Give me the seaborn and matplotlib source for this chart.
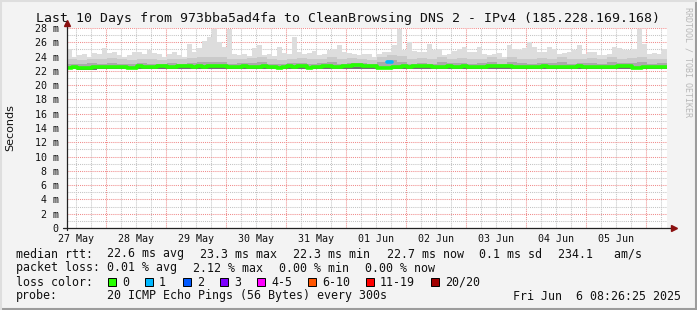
import numpy as np
import pandas as pd
import matplotlib
matplotlib.use("Agg")
import matplotlib.pyplot as plt
import matplotlib.dates as mdates
from matplotlib.ticker import MultipleLocator, FuncFormatter
from matplotlib.lines import Line2D
from matplotlib.patches import Rectangle
import seaborn as sns

# time window of the graph
start = pd.Timestamp("2025-05-27 08:26:25")
end = pd.Timestamp("2025-06-06 08:26:25")

# median rtt in ms, 2 hour steps (120 steps)
median_rtt = [22.45, 22.48, 22.40, 22.36, 22.38, 22.52, 22.54, 22.50, 22.48, 22.52,
              22.55, 22.54, 22.46, 22.44, 22.62, 22.60, 22.55, 22.52, 22.66, 22.64,
              22.57, 22.55, 22.66, 22.68, 22.62, 22.60, 22.63, 22.60, 22.68, 22.66,
              22.70, 22.68, 22.58, 22.56, 22.60, 22.62, 22.52, 22.50, 22.48, 22.62,
              22.60, 22.58, 22.46, 22.48, 22.62, 22.60, 22.64, 22.72, 22.42, 22.56,
              22.54, 22.74, 22.70, 22.52, 22.50, 22.68, 22.66, 22.78, 22.76, 22.74,
              22.72, 22.70, 22.46, 22.44, 23.30, 22.52, 22.55, 22.62, 22.60, 22.66,
              22.68, 22.64, 22.66, 22.50, 22.48, 22.52, 22.62, 22.60, 22.58, 22.62,
              22.57, 22.60, 22.55, 22.58, 22.68, 22.66, 22.70, 22.64, 22.68, 22.50,
              22.48, 22.52, 22.58, 22.56, 22.60, 22.62, 22.60, 22.58, 22.54, 22.52,
              22.56, 22.60, 22.62, 22.58, 22.60, 22.56, 22.58, 22.54, 22.56, 22.60,
              22.72, 22.70, 22.66, 22.46, 22.44, 22.52, 22.56, 22.58, 22.54, 22.56]

# highest ping per step (top of the smoke), 2 hour steps
smoke_max = [25.1, 24.0, 24.2, 24.4, 24.0, 24.5, 24.4, 25.2, 24.5, 24.6,
             24.2, 24.0, 24.2, 24.7, 24.6, 24.3, 24.9, 24.5, 24.4, 24.0,
             24.4, 24.6, 24.2, 23.9, 25.8, 24.7, 25.2, 26.2, 26.8, 27.9,
             26.1, 25.4, 27.9, 24.4, 24.2, 24.4, 24.1, 25.2, 25.6, 24.2,
             24.4, 24.1, 25.4, 24.5, 24.3, 26.8, 24.7, 24.4, 24.5, 24.8,
             24.2, 24.3, 24.9, 25.0, 25.6, 24.7, 24.5, 24.4, 24.2, 24.3,
             24.3, 24.0, 24.4, 24.7, 24.7, 25.6, 27.9, 24.9, 26.1, 24.8,
             24.7, 24.6, 25.8, 24.9, 25.1, 24.2, 24.4, 24.8, 25.0, 25.4,
             24.7, 24.6, 25.4, 24.4, 24.2, 24.3, 24.5, 24.0, 25.6, 25.0,
             24.9, 25.2, 26.1, 25.4, 24.7, 24.6, 25.3, 25.1, 24.4, 24.5,
             24.7, 24.9, 25.6, 24.4, 24.7, 24.6, 24.2, 24.2, 24.4, 25.4,
             25.2, 24.9, 24.9, 25.0, 27.9, 25.8, 24.4, 24.5, 24.3, 25.1]

# inner smoke bands, 4 hour steps (60 steps)
smoke_p90 = [23.6, 23.5, 23.7, 23.6, 23.8, 23.6, 23.5, 23.7, 23.6, 23.5,
             23.7, 23.6, 23.8, 23.9, 24.0, 23.9, 23.6, 23.7, 23.8, 23.9,
             23.6, 23.5, 23.7, 23.8, 23.6, 23.7, 23.9, 23.6, 23.8, 23.7,
             23.5, 23.9, 24.2, 24.1, 23.7, 23.8, 23.6, 23.9, 23.7, 23.8,
             23.6, 23.7, 23.9, 23.6, 24.0, 23.7, 23.6, 23.8, 23.7, 23.9,
             23.6, 23.7, 23.8, 23.6, 23.9, 23.7, 23.8, 24.0, 23.6, 23.7]
smoke_p75 = [23.0, 22.9, 23.1, 23.0, 23.1, 23.0, 22.9, 23.1, 23.0, 22.9,
             23.1, 23.0, 23.1, 23.2, 23.3, 23.2, 23.0, 23.1, 23.1, 23.2,
             23.0, 22.9, 23.1, 23.1, 23.0, 23.1, 23.2, 23.0, 23.1, 23.1,
             22.9, 23.2, 23.5, 23.3, 23.0, 23.1, 23.0, 23.2, 23.1, 23.1,
             23.0, 23.1, 23.2, 23.0, 23.3, 23.1, 23.0, 23.1, 23.1, 23.2,
             23.0, 23.1, 23.1, 23.0, 23.2, 23.1, 23.1, 23.3, 23.0, 23.1]
smoke_p25 = [22.40, 22.38, 22.45, 22.42, 22.48, 22.50, 22.45, 22.48, 22.52, 22.48,
             22.52, 22.55, 22.50, 22.55, 22.56, 22.58, 22.50, 22.55, 22.56, 22.50,
             22.52, 22.55, 22.56, 22.48, 22.45, 22.55, 22.50, 22.58, 22.52, 22.56,
             22.58, 22.50, 22.55, 22.56, 22.58, 22.55, 22.50, 22.55, 22.58, 22.50,
             22.55, 22.56, 22.58, 22.50, 22.56, 22.55, 22.52, 22.58, 22.55, 22.56,
             22.55, 22.52, 22.55, 22.56, 22.58, 22.55, 22.50, 22.56, 22.52, 22.55]
smoke_min = [22.20, 22.18, 22.12, 22.20, 22.22, 22.28, 22.22, 22.25, 22.28, 22.22,
             22.30, 22.30, 22.24, 22.30, 22.32, 22.30, 22.24, 22.30, 22.30, 22.22,
             22.24, 22.30, 22.30, 22.22, 22.20, 22.30, 22.24, 22.32, 22.24, 22.30,
             22.32, 22.24, 22.26, 22.30, 22.32, 22.30, 22.24, 22.30, 22.32, 22.24,
             22.30, 22.30, 22.32, 22.24, 22.30, 22.30, 22.24, 22.32, 22.30, 22.30,
             22.30, 22.24, 22.30, 22.30, 22.32, 22.30, 22.24, 22.30, 22.26, 22.30]

# steps with packet loss (index into median_rtt, lost pings)
loss_steps = [64]
loss_counts = [1]

loss_labels = ["0", "1", "2", "3", "4-5", "6-10", "11-19", "20/20"]
loss_colors = ["#26ff00", "#00b8ff", "#0059ff", "#7e00ff", "#ff00ff", "#ff5500", "#ff0000", "#a10000"]

title = "Last 10 Days from 973bba5ad4fa to CleanBrowsing DNS 2 - IPv4 (185.228.169.168)"
rtt_stats = ["22.6 ms avg", "23.3 ms max", "22.3 ms min", "22.7 ms now", "0.1 ms sd", "234.1   am/s"]
loss_stats = ["0.01 % avg", "2.12 % max", "0.00 % min", "0.00 % now"]
probe_text = "20 ICMP Echo Pings (56 Bytes) every 300s"
stamp_text = "Fri Jun  6 08:26:25 2025"

sns.set_style("white")
plt.rcParams['font.family'] = ['DejaVu Sans Mono']

W, H = 697, 310
fig = plt.figure(figsize=(W / 100, H / 100), dpi=100, facecolor="#f3f3f3")
ax = fig.add_axes([67 / W, 82 / H, 600 / W, 200 / H])
ax.set_facecolor("white")

t2 = pd.date_range(start, end, periods=len(median_rtt) + 1)
t4 = pd.date_range(start, end, periods=len(smoke_p90) + 1)

def ext(v):
    return np.append(np.asarray(v, float), v[-1])

# smoke, light to dark
ax.fill_between(t2, ext(median_rtt), ext(smoke_max), step="post", color="#dddddd", lw=0)
ax.fill_between(t4, ext(smoke_min), ext(smoke_p90), step="post", color="#cacaca", lw=0)
ax.fill_between(t4, ext(smoke_min), ext(smoke_p75), step="post", color="#aaaaaa", lw=0)
ax.fill_between(t4, ext(smoke_min), ext(smoke_p25), step="post", color="#707070", lw=0)

# median line coloured by loss
med = pd.DataFrame({"time": t2, "rtt": ext(median_rtt)})
ok = ~med.index.isin(loss_steps)
sns.lineplot(data=med[ok], x="time", y="rtt", drawstyle="steps-post",
             color=loss_colors[0], lw=2.6, ax=ax)
for i, n in zip(loss_steps, loss_counts):
    seg = pd.DataFrame({"time": [t2[i], t2[i + 1]], "rtt": [median_rtt[i]] * 2})
    sns.lineplot(data=seg, x="time", y="rtt", color=loss_colors[n], lw=2.6, ax=ax)

ax.set_xlim(start, end)
ax.set_ylim(0, 28)
ax.set_xlabel("")
ax.set_ylabel("")

# grid
ax.yaxis.set_major_locator(MultipleLocator(2))
ax.yaxis.set_minor_locator(MultipleLocator(1))
ax.xaxis.set_major_locator(mdates.DayLocator())
ax.xaxis.set_minor_locator(mdates.HourLocator(byhour=[6, 12, 18]))
ax.grid(which="major", color="#f08c8c", lw=0.75, ls=(0, (1, 1)))
ax.grid(which="minor", color="#c4c4c4", lw=0.75, ls=(0, (1, 1)))
ax.set_axisbelow(True)

ax.yaxis.set_major_formatter(FuncFormatter(lambda v, p: "0" if v == 0 else f"{int(v)} m"))
ax.xaxis.set_major_formatter(FuncFormatter(lambda v, p: ""))
ax.xaxis.set_minor_formatter(FuncFormatter(
    lambda v, p: mdates.num2date(v).strftime("%d %b") if mdates.num2date(v).hour == 12 else ""))
ax.tick_params(axis="y", which="major", length=2, width=0.8, color="#333333",
               pad=4, labelsize=7.2, labelcolor="#111111")
ax.tick_params(axis="y", which="minor", length=0)
ax.tick_params(axis="x", which="both", length=0, pad=4, labelsize=7.2, labelcolor="#111111")
for s in ax.spines.values():
    s.set_visible(False)

# axis lines with arrows
ax.plot([-0.006, 1.01], [0, 0], transform=ax.transAxes, color="#222222", lw=0.9, clip_on=False)
ax.plot([0, 0], [-0.012, 1.02], transform=ax.transAxes, color="#222222", lw=0.9, clip_on=False)
ax.plot([1.012], [0], transform=ax.transAxes, marker=">", ms=4, color="#8b1010", clip_on=False)
ax.plot([0], [1.025], transform=ax.transAxes, marker="^", ms=4, color="#8b1010", clip_on=False)

fig.text(348 / W, 1 - 18.5 / H, title, ha="center", va="center", fontsize=9.5, color="#111111")
fig.text(10 / W, 1 - 128 / H, "Seconds", rotation=90, ha="center", va="center",
         fontsize=8, family="DejaVu Sans", color="#111111")
fig.text(688 / W, 1 - 62 / H, "RRDTOOL / TOBI OETIKER", rotation=270, ha="center", va="center",
         fontsize=6, color="#b8b8b8")

# legend block
fs = 8.4
def put(x, y, s):
    fig.text(x / W, 1 - y / H, s, ha="left", va="center", fontsize=fs, color="#111111")

put(16, 254, "median rtt:")
for x, s in zip([107, 200, 293, 387, 479, 558], rtt_stats):
    put(x, 254, s)
put(16, 268, "packet loss:")
for x, s in zip([107, 193, 279, 365], loss_stats):
    put(x, 268, s)
put(16, 282, "loss color:")
for x, lab, c in zip([108, 145, 183, 220, 257, 308, 366, 431], loss_labels, loss_colors):
    fig.add_artist(Rectangle((x / W, 1 - 286 / H), 8 / W, 8 / H, transform=fig.transFigure,
                             facecolor=c, edgecolor="#000000", lw=0.7))
    put(x + 14, 282, lab)
put(16, 296, "probe:")
put(107, 296, probe_text)
put(513, 296, stamp_text)

# frame shading
fig.add_artist(Line2D([0, 1], [1 / H, 1 / H], transform=fig.transFigure, color="#9c9c9c", lw=1.5))
fig.add_artist(Line2D([1 - 1 / W, 1 - 1 / W], [0, 1], transform=fig.transFigure, color="#9c9c9c", lw=1.5))
fig.add_artist(Line2D([0, 1], [1 - 1 / H, 1 - 1 / H], transform=fig.transFigure, color="#dedede", lw=1.5))
fig.add_artist(Line2D([1 / W, 1 / W], [0, 1], transform=fig.transFigure, color="#dedede", lw=1.5))

fig.savefig("out.png", dpi=100, facecolor=fig.get_facecolor())
